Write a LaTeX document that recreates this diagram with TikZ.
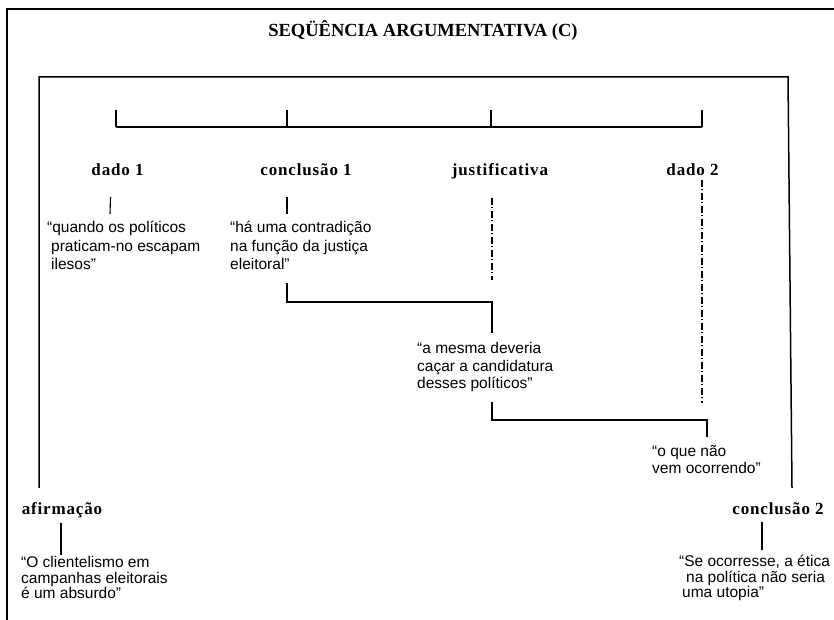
\documentclass[tikz,border=0pt]{standalone}
\usepackage{fontspec}
\setmainfont{Liberation Serif}
\newfontfamily\arialfont{Liberation Sans}
\newfontfamily\rotulofont[LetterSpace=5]{Liberation Serif}
\usetikzlibrary{positioning, calc}
\tikzset{%
	moldura/.style={line width=1.5pt},
	liga/.style={line width=1.1pt},
	pontotraco/.style={line width=1.1pt, dash pattern=on 7pt off 2.5pt on 1pt off 2.5pt},
	rotulo/.style={font=\rotulofont\bfseries\fontsize{17}{20}\selectfont, inner sep=0pt, anchor=base},
	citacao/.style={font=\arialfont\fontsize{15.5}{18.5}\selectfont, align=left, inner sep=0pt, anchor=base west},
	titulo/.style={font=\bfseries\fontsize{18.5}{22}\selectfont, inner sep=0pt, anchor=base}
}

\begin{document}
\begin{tikzpicture}[x=1pt, y=1pt]
	\useasboundingbox (0,0) rectangle (834,620);
	\draw[moldura] (834,611) -- (7,611) -- (7,0);
	\node[titulo] (tit) at (423,583) {SEQÜÊNCIA ARGUMENTATIVA (C)};

	\node[rotulo] (dado1) at (117.5,444) {dado 1};
	\node[rotulo] (conc1) at (306,444) {conclusão 1};
	\node[rotulo] (just) at (500,444) {justificativa};
	\node[rotulo] (dado2) at (692.5,444) {dado 2};
	\node[rotulo] (afirm) at (62,105) {afirmação};
	\node[rotulo] (conc2) at (778,105) {conclusão 2};

	% citacoes (base = ultima linha)
	\node[citacao] (q1) at (47,350) {“quando os políticos\\\hspace*{4pt}praticam-no escapam\\\hspace*{4pt}ilesos”};
	\node[citacao] (q2) at (230,350) {“há uma contradição\\na função da justiça\\eleitoral”};
	\node[citacao, font=\arialfont\fontsize{15.5}{17.5}\selectfont] (q3) at (417,231) {“a mesma deveria\\caçar a candidatura\\desses políticos”};
	\node[citacao, font=\arialfont\fontsize{15.5}{17.5}\selectfont] (q4) at (652,146) {“o que não\\vem ocorrendo”};
	\node[citacao, font=\arialfont\fontsize{15.5}{15.5}\selectfont] (q5) at (679,22) {“Se ocorresse, a ética\\\hspace*{7pt}na política não seria\\\hspace*{3pt}uma utopia”};
	\node[citacao, font=\arialfont\fontsize{15.5}{15.5}\selectfont] (q6) at (21,21) {“O clientelismo em\\campanhas eleitorais\\é um absurdo”};

	% linha do tempo
	\draw[liga] (116,493) -- (702,493);
	\foreach \x in {116,287,491,702}
		\draw[liga] (\x,510) -- (\x,493);

	% ligacoes
	\draw[liga] ([shift={(-7,-21)}]dado1.base) -- ([shift={(63,56)}]q1.base west);
	\draw[liga] ([shift={(-19,-21)}]conc1.base) -- ([shift={(57,56)}]q2.base west);
	\draw[liga] ([shift={(57,-13)}]q2.base west) -- ++(0,-19) -| ([shift={(75,56)}]q3.base west);
	\draw[liga] ([shift={(75,-13)}]q3.base west) -- ++(0,-18) -| ([shift={(55,37)}]q4.base west);
	\draw[pontotraco] ([shift={(-8,-22)}]just.base) -- ([shift={(-8,-104)}]just.base);
	\draw[pontotraco] ([shift={(9.5,-4)}]dado2.base) -- ([shift={(9.5,-227)}]dado2.base);
	\draw[moldura] ([shift={(-23,27)}]afirm.base) -- ++(0,411) -- ([shift={(10,438)}]conc2.base) -- ([shift={(14,27)}]conc2.base);
	\draw[liga] ([shift={(-1,-8)}]afirm.base) -- ([shift={(40,44)}]q6.base west);
	\draw[liga] ([shift={(-16,-7)}]conc2.base) -- ([shift={(83,48)}]q5.base west);
\end{tikzpicture}
\end{document}
